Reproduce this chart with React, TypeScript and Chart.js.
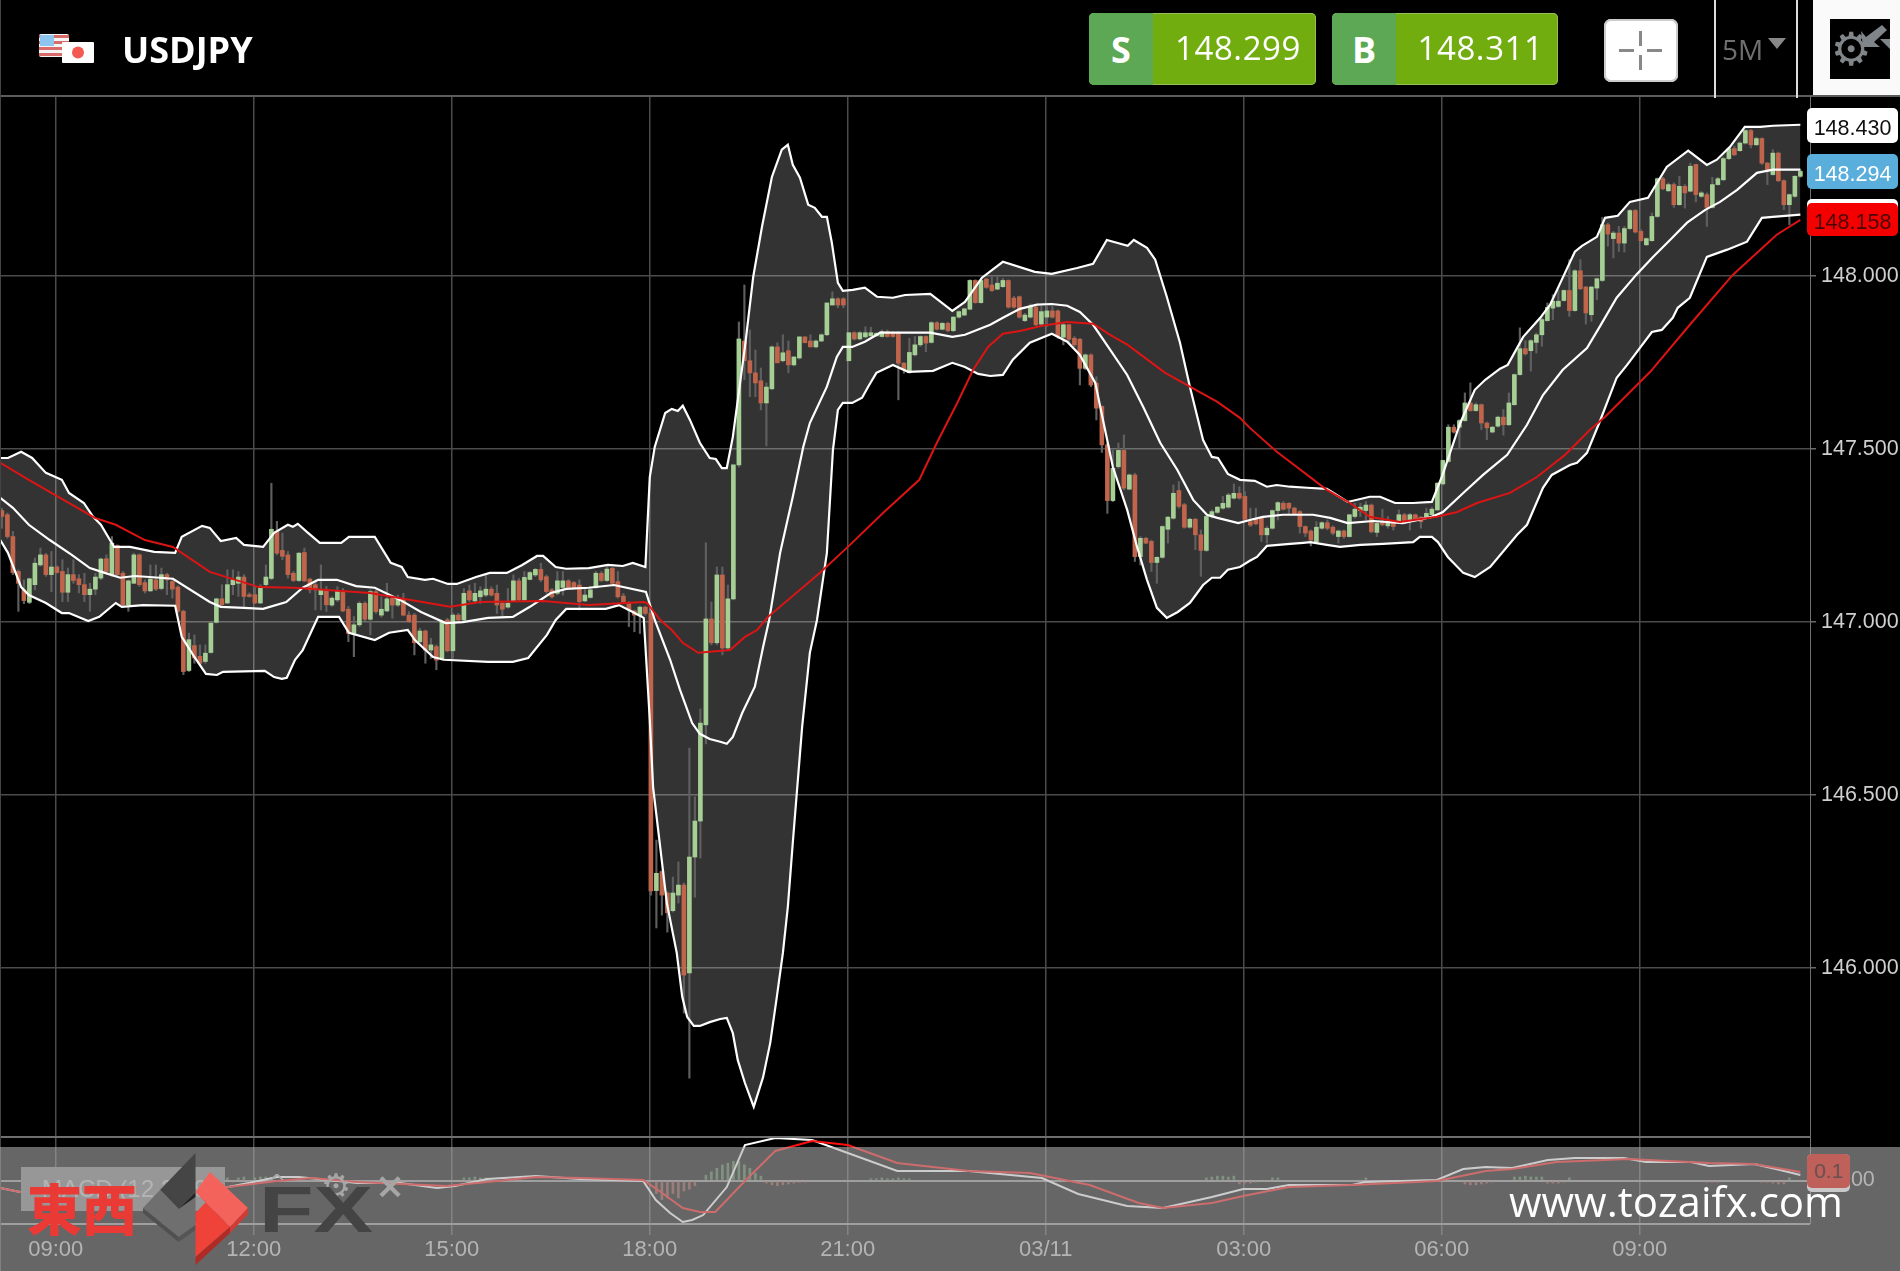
import React, { useEffect, useRef } from "react";
import { Chart, registerables } from "chart.js";

Chart.register(...registerables);

const symbol = "USDJPY";
const sellPrice = "148.299";
const buyPrice = "148.311";
const timeframe = "5M";
const tagHigh = "148.430";
const tagMid = "148.294";
const tagLow = "148.158";
const macdTag = "0.1";
const macdLegend = "MACD (12,26,9)";
const site = "www.tozaifx.com";

const xTickBars = [9.78, 45.78, 81.78, 117.78, 153.78, 189.78, 225.78, 261.78, 297.78];
const xTickLabels = ["09:00", "12:00", "15:00", "18:00", "21:00", "03/11", "03:00", "06:00", "09:00"];
const priceTicks = [146, 146.5, 147, 147.5, 148];
const macdTicks = [0];

const opens = [
147.321,147.309,147.246,147.145,147.092,147.056,147.107,147.164,147.193,147.136,147.158,147.145,147.085,147.136,147.124,147.107,147.078,147.094,147.126,147.182,
147.136,147.220,147.140,147.049,147.111,147.193,147.113,147.089,147.121,147.096,147.136,147.116,147.100,147.030,146.859,146.931,146.900,146.885,146.911,146.998,
147.066,147.054,147.107,147.111,147.129,147.078,147.078,147.054,147.107,147.125,147.261,147.206,147.193,147.140,147.119,147.200,147.123,147.107,147.078,147.090,
147.048,147.063,147.087,147.036,146.966,146.991,147.053,147.007,147.087,147.019,147.031,147.068,147.048,147.066,147.019,147.019,146.942,146.973,146.918,146.928,
146.894,147.005,146.916,147.019,147.005,147.089,147.060,147.072,147.077,147.094,147.082,147.053,147.042,147.061,147.118,147.063,147.122,147.135,147.151,147.130,
147.092,147.082,147.099,147.118,147.113,147.106,147.060,147.070,147.099,147.140,147.119,147.154,147.116,147.074,147.055,147.031,147.017,147.042,
147.025,146.223,146.278,146.216,146.165,146.210,146.239,145.985,146.320,146.424,146.702,147.008,146.939,147.135,146.924,147.066,147.453,147.811,147.754,147.719,
147.696,147.632,147.673,147.794,147.754,147.783,147.742,147.762,147.823,147.811,147.794,147.811,147.829,147.915,147.933,147.933,147.754,147.835,147.817,147.823,
147.826,147.826,147.824,147.838,147.835,147.835,147.747,147.720,147.771,147.800,147.824,147.807,147.864,147.845,147.862,147.841,147.880,147.886,147.903,147.986,
147.922,147.990,147.973,147.961,147.968,147.986,147.935,147.939,147.870,147.880,147.909,147.860,147.880,147.898,147.898,147.822,147.858,147.819,147.816,147.732,
147.771,147.689,147.622,147.511,147.350,147.448,147.495,147.383,147.424,147.188,147.241,147.232,147.171,147.186,147.267,147.299,147.379,147.338,147.273,147.296,
147.251,147.206,147.304,147.316,147.328,147.331,147.357,147.371,147.362,
147.289,147.296,147.299,147.251,147.270,147.321,147.342,147.342,147.328,147.318,147.275,147.262,147.231,147.270,147.286,147.273,147.246,147.262,147.246,147.304,
147.321,147.321,147.337,147.258,147.289,147.277,147.284,147.292,147.309,147.294,147.309,147.302,147.302,147.309,147.323,147.398,147.463,147.562,147.562,147.581,
147.632,147.610,147.627,147.574,147.548,147.565,147.591,147.569,147.627,147.714,147.789,147.783,147.807,147.829,147.870,147.906,147.911,147.928,147.957,147.899,
148.014,147.967,147.887,147.964,147.986,148.147,148.107,148.123,148.094,148.136,148.188,148.128,148.089,148.101,148.171,148.280,148.245,148.263,148.205,148.258,
148.244,148.321,148.229,148.234,148.197,148.263,148.277,148.338,148.367,148.361,148.383,148.419,148.378,148.396,148.325,148.292,148.354,148.274,148.205,148.229,148.287,
];
const closes = [
147.304,147.246,147.142,147.111,147.061,147.124,147.169,147.193,147.136,147.158,147.142,147.085,147.136,147.119,147.107,147.078,147.094,147.129,147.181,147.145,
147.227,147.136,147.049,147.118,147.193,147.107,147.089,147.123,147.094,147.136,147.121,147.094,147.030,146.856,146.948,146.895,146.880,146.909,146.996,147.066,
147.049,147.107,147.121,147.129,147.073,147.073,147.054,147.100,147.129,147.267,147.198,147.189,147.136,147.119,147.198,147.118,147.092,147.092,147.092,147.049,
147.068,147.087,147.031,146.966,146.991,147.053,147.007,147.087,147.029,147.036,147.066,147.048,147.068,147.019,147.000,146.939,146.973,146.918,146.933,146.889,
147.000,146.916,147.019,147.005,147.082,147.063,147.082,147.089,147.094,147.077,147.048,147.036,147.053,147.118,147.063,147.128,147.142,147.151,147.121,147.087,
147.072,147.118,147.118,147.099,147.096,147.058,147.077,147.092,147.140,147.119,147.152,147.111,147.072,147.058,147.034,147.019,147.042,147.024,
146.222,146.273,146.210,146.159,146.216,146.239,145.979,146.320,146.424,146.707,147.008,146.939,147.135,146.924,147.066,147.453,147.817,147.754,147.719,147.690,
147.632,147.678,147.794,147.748,147.777,147.742,147.765,147.823,147.806,147.794,147.811,147.829,147.921,147.933,147.915,147.915,147.835,147.817,147.835,147.835,
147.835,147.833,147.838,147.824,147.824,147.747,147.728,147.778,147.800,147.824,147.805,147.864,147.845,147.862,147.841,147.880,147.896,147.904,147.986,147.922,
147.986,147.966,147.957,147.978,147.986,147.909,147.909,147.880,147.886,147.909,147.858,147.896,147.898,147.880,147.824,147.858,147.816,147.800,147.732,147.771,
147.684,147.617,147.511,147.350,147.443,147.495,147.386,147.424,147.188,147.241,147.227,147.171,147.186,147.275,147.302,147.371,147.333,147.273,147.296,147.251,
147.206,147.304,147.318,147.331,147.342,147.366,147.371,147.357,147.296,
147.279,147.283,147.251,147.270,147.321,147.344,147.325,147.328,147.310,147.275,147.256,147.236,147.273,147.286,147.270,147.256,147.262,147.246,147.309,147.325,
147.331,147.337,147.260,147.284,147.280,147.289,147.275,147.309,147.292,147.309,147.294,147.289,147.313,147.325,147.400,147.466,147.562,147.548,147.581,147.632,
147.610,147.627,147.574,147.560,147.562,147.591,147.569,147.632,147.714,147.789,147.774,147.812,147.829,147.873,147.908,147.926,147.926,147.957,147.899,148.014,
147.962,147.892,147.967,147.991,148.147,148.120,148.123,148.094,148.136,148.188,148.126,148.101,148.107,148.171,148.280,148.251,148.263,148.205,148.258,148.239,
148.316,148.234,148.239,148.197,148.263,148.280,148.338,148.367,148.349,148.383,148.419,148.378,148.396,148.325,148.301,148.354,148.274,148.205,148.234,148.287,148.301,
];
const highs = [
147.328,147.314,147.261,147.150,147.121,147.126,147.184,147.213,147.198,147.203,147.162,147.179,147.155,147.179,147.136,147.140,147.111,147.140,147.184,147.193,
147.246,147.222,147.145,147.121,147.198,147.196,147.121,147.164,147.164,147.155,147.140,147.121,147.104,147.034,146.967,146.962,146.933,146.933,146.998,147.068,
147.107,147.150,147.150,147.145,147.136,147.083,147.102,147.107,147.164,147.400,147.290,147.256,147.203,147.145,147.200,147.213,147.126,147.121,147.164,147.102,
147.072,147.101,147.096,147.044,147.015,147.058,147.058,147.092,147.092,147.072,147.111,147.074,147.077,147.082,147.029,147.024,146.981,146.976,146.952,146.933,
147.005,147.010,147.024,147.024,147.096,147.106,147.111,147.101,147.135,147.101,147.106,147.058,147.096,147.135,147.125,147.145,147.145,147.154,147.169,147.135,
147.096,147.145,147.145,147.122,147.116,147.121,147.096,147.101,147.145,147.145,147.159,147.157,147.145,147.082,147.058,147.034,147.045,147.045,
147.030,146.369,146.280,146.219,146.262,146.306,146.245,146.635,146.494,146.748,147.228,147.057,147.158,147.158,147.106,147.453,147.866,147.973,147.843,147.785,
147.733,147.690,147.797,147.806,147.829,147.811,147.765,147.823,147.823,147.829,147.814,147.832,147.921,147.953,147.936,147.936,147.835,147.838,147.838,147.852,
147.851,147.836,147.843,147.843,147.838,147.838,147.749,147.819,147.824,147.826,147.826,147.867,147.867,147.865,147.865,147.882,147.898,147.906,147.988,147.988,
147.990,147.992,147.997,147.997,147.992,147.988,147.940,147.941,147.891,147.918,147.912,147.911,147.911,147.911,147.901,147.862,147.859,147.824,147.819,147.774,
147.774,147.708,147.624,147.516,147.496,147.516,147.540,147.427,147.429,147.246,147.244,147.236,147.188,147.277,147.304,147.395,147.405,147.342,147.299,147.299,
147.265,147.306,147.323,147.333,147.362,147.371,147.398,147.390,147.376,
147.328,147.328,147.304,147.275,147.323,147.347,147.347,147.344,147.331,147.321,147.277,147.265,147.289,147.289,147.294,147.277,147.265,147.265,147.310,147.342,
147.342,147.347,147.340,147.289,147.325,147.304,147.289,147.323,147.313,147.313,147.311,147.304,147.328,147.331,147.402,147.467,147.569,147.569,147.584,147.661,
147.690,147.632,147.629,147.577,147.565,147.594,147.613,147.661,147.716,147.849,147.812,147.815,147.834,147.878,147.921,147.945,147.959,147.959,148.046,148.017,
148.046,147.969,147.969,147.993,148.168,148.152,148.128,148.142,148.142,148.191,148.191,148.133,148.109,148.181,148.282,148.284,148.268,148.268,148.287,148.263,
148.325,148.322,148.243,148.239,148.284,148.284,148.342,148.369,148.374,148.386,148.422,148.422,148.400,148.398,148.327,148.364,148.357,148.277,148.236,148.289,148.306,
];
const lows = [
147.270,147.241,147.136,147.030,147.052,147.052,147.092,147.160,147.131,147.087,147.140,147.058,147.058,147.111,147.083,147.058,147.030,147.078,147.121,147.140,
147.131,147.133,147.046,147.030,147.110,147.102,147.083,147.087,147.090,147.092,147.078,147.068,147.025,146.847,146.856,146.880,146.876,146.880,146.909,146.996,
147.046,147.052,147.078,147.073,147.044,147.071,147.052,147.052,147.102,147.121,147.193,147.179,147.126,147.116,147.116,147.116,147.083,147.034,147.034,147.030,
147.044,147.058,147.029,146.942,146.899,146.986,147.003,146.962,147.024,147.013,147.029,147.010,147.044,147.017,146.997,146.904,146.938,146.880,146.894,146.861,
146.889,146.913,146.894,147.003,147.000,147.058,147.058,147.053,147.072,147.074,147.024,147.015,147.039,147.058,147.058,147.058,147.121,147.130,147.116,147.082,
147.068,147.077,147.077,147.096,147.094,147.034,147.058,147.068,147.096,147.116,147.116,147.106,147.068,147.053,146.986,146.971,146.966,147.019,
146.210,146.115,146.152,146.103,146.161,146.187,145.869,145.681,146.204,146.317,146.647,146.933,146.933,146.904,146.918,147.063,147.447,147.699,147.650,147.650,
147.612,147.508,147.670,147.748,147.751,147.719,147.739,147.759,147.806,147.794,147.791,147.809,147.826,147.915,147.907,147.907,147.754,147.814,147.814,147.820,
147.824,147.824,147.822,147.822,147.822,147.641,147.718,147.718,147.768,147.795,147.780,147.805,147.843,147.843,147.838,147.838,147.877,147.884,147.901,147.920,
147.920,147.963,147.954,147.959,147.966,147.906,147.906,147.877,147.867,147.877,147.855,147.858,147.853,147.877,147.819,147.800,147.805,147.795,147.684,147.728,
147.679,147.583,147.489,147.313,147.347,147.443,147.381,147.381,147.174,147.164,147.225,147.145,147.111,147.183,147.227,147.296,147.328,147.270,147.270,147.208,
147.131,147.203,147.299,147.313,147.325,147.328,147.354,147.354,147.294,
147.275,147.280,147.232,147.227,147.267,147.294,147.323,147.309,147.309,147.256,147.246,147.219,147.227,147.267,147.265,147.251,147.227,147.241,147.244,147.299,
147.304,147.294,147.256,147.246,147.277,147.270,147.265,147.289,147.283,147.265,147.289,147.270,147.299,147.306,147.321,147.395,147.460,147.545,147.502,147.579,
147.608,147.608,147.555,147.526,147.545,147.562,147.539,147.567,147.625,147.712,147.770,147.724,147.776,147.796,147.868,147.873,147.908,147.926,147.882,147.897,
147.959,147.860,147.868,147.930,147.983,148.085,148.051,148.070,148.068,148.133,148.123,148.099,148.087,148.099,148.168,148.248,148.243,148.197,148.203,148.195,
148.242,148.213,148.226,148.142,148.195,148.261,148.274,148.335,148.347,148.359,148.380,148.369,148.376,148.321,148.263,148.290,148.272,148.191,148.147,148.226,148.284,
];

const upperAt = [-0.3,1.1,3.5,5.5,8,10.9,12.2,14.9,16.6,18,20.4,23.3,27.7,31.5,32.7,36.4,37.8,39.8,42.6,44,47.5,49.5,52,52.9,53.8,55.5,57.8,61.7,63.1,67.8,70.7,72.7,73.8,76.9,78.4,81.1,82.7,86.2,88.7,91.8,94.6,97.3,98.4,100.7,102.6,106.7,110.2,112.9,114.7,117,117.8,118.7,120.6,121.8,122.9,123.8,125.1,126.9,128.7,129.8,130.9,131.8,132.9,135.1,136.6,138.2,140,141.8,142.9,143.8,145.1,146.6,147.8,149.1,150,150.9,152,152.9,154.7,156.9,159.1,162,164.2,168.8,172.8,175.1,178.2,182,187.8,190.9,195.5,198.4,200.9,204.7,205.8,208.2,209.7,211.8,214.2,216,218.4,220,221.1,222.9,225.1,227.8,230,231.8,234.2,237.3,240.9,242.7,244.7,248.7,250.6,253.3,256.6,260,261.8,263.3,265.1,267.8,269.7,272.4,273.8,276.6,279.7,281.5,284.2,286,287.3,290,291.5,293.8,296,299.3,302.7,306.6,310,311.8,314.2,316.9,319.7,322,327];
const upperBand = [147.473,147.473,147.491,147.473,147.430,147.410,147.372,147.343,147.303,147.280,147.216,147.216,147.202,147.199,147.245,147.277,147.271,147.233,147.242,147.222,147.216,147.257,147.280,147.274,147.283,147.259,147.228,147.228,147.245,147.245,147.170,147.158,147.129,147.121,147.124,147.109,147.109,147.129,147.141,147.141,147.164,147.190,147.190,147.158,147.153,147.155,147.164,147.161,147.170,147.158,147.418,147.505,147.603,147.615,147.609,147.624,147.583,147.517,147.473,147.470,147.444,147.444,147.534,147.794,147.996,148.141,148.285,148.364,148.378,148.320,148.283,148.205,148.196,148.170,148.170,148.095,147.979,147.956,147.959,147.965,147.939,147.936,147.944,147.947,147.898,147.924,147.994,148.040,148.011,148.005,148.022,148.034,148.103,148.086,148.103,148.080,148.046,147.939,147.806,147.679,147.525,147.476,147.473,147.427,147.410,147.407,147.390,147.395,147.390,147.387,147.384,147.366,147.346,147.361,147.361,147.343,147.343,147.346,147.418,147.488,147.572,147.670,147.699,147.731,147.742,147.823,147.878,147.916,148.008,148.069,148.086,148.112,148.167,148.173,148.213,148.225,148.314,148.361,148.320,148.335,148.372,148.430,148.430,148.433,148.436];

const lowerAt = [-0.3,1.1,3.5,4.9,8,10.9,12.2,15.7,17.7,20.7,21.8,25.7,31.5,32.7,35,37.1,39.1,40.2,47.8,49.5,50.9,51.8,53.3,54.7,57.5,61.3,63.1,67.8,70.4,73.8,75.1,78.4,80.4,88.4,92.9,95.7,99.1,100.7,102.6,109.8,112.2,114.7,116.7,117.8,118.4,120.9,122.7,123.7,124.6,125.8,126.9,128.7,130.6,131.8,132.9,133.8,135.1,136.7,138.4,139.7,140.9,142,142.9,143.8,145.5,146.9,148.2,150,151.1,152,152.9,154.6,156.4,157.5,159,162,164.8,169.3,172.8,175.1,177.5,179.7,182,183.8,186.9,190.9,193.7,196,198.8,200.2,202,204.6,206.4,208.2,210,211.8,213.8,216,218.4,220,221.5,222.9,225.1,226.9,228.2,230,234.2,236.6,237.9,240.9,243.3,247,251.1,256.6,257.8,260,261.1,262.9,265.7,267.8,270.6,275.5,277.3,280.2,281.8,285.1,286.4,288.2,290.5,293.6,295.5,300,301.8,303.8,304.7,306.9,310,313.7,317.3,320,322,327];
const lowerBand = [147.236,147.199,147.100,147.077,147.054,147.025,147.025,147.002,147.014,147.054,147.043,147.048,147.046,146.956,146.898,146.849,146.846,146.855,146.858,146.840,146.835,146.838,146.890,146.918,147.014,147.014,146.968,146.947,146.968,146.976,146.947,146.898,146.890,146.884,146.884,146.895,146.962,147.005,147.037,147.037,147.048,147.028,147.011,146.716,146.522,146.187,146.043,145.916,145.858,145.832,145.832,145.843,145.852,145.855,145.811,145.733,145.667,145.598,145.684,145.783,145.916,146.043,146.176,146.361,146.696,146.910,147.005,147.199,147.496,147.612,147.632,147.632,147.647,147.679,147.719,147.742,147.722,147.725,147.748,147.736,147.716,147.710,147.713,147.757,147.806,147.832,147.809,147.771,147.690,147.583,147.447,147.323,147.216,147.121,147.040,147.011,147.028,147.054,147.106,147.127,147.127,147.150,147.158,147.176,147.187,147.219,147.225,147.228,147.230,147.222,147.216,147.222,147.225,147.230,147.245,147.245,147.230,147.187,147.141,147.129,147.158,147.251,147.280,147.387,147.424,147.453,147.459,147.488,147.577,147.705,147.742,147.837,147.843,147.878,147.907,147.936,148.054,148.075,148.098,148.167,148.170,148.176];

const midAt = [-0.3,2,4.9,8.7,12.7,16,18.7,21.5,24.2,28.7,31.1,37.8,39.8,44,47.5,51.7,54.7,57.5,60.9,64.4,67.8,72.4,76.2,80.7,83.8,88.4,92.9,96,99.8,102.6,106.7,111.3,117.1,118.7,121.5,123.3,125.5,126.9,128.7,130.6,131.8,132.9,134.6,136.9,138.4,139.5,141.5,143.8,145.7,146.9,150,151.8,152.9,154.6,156.9,159.7,163.3,168.8,172.8,175.1,179.7,182,185.1,188.2,190.9,193.7,196,198.4,200.9,204.6,207.5,210.6,213.7,216.6,219.1,221,224.8,226.9,229.3,232.9,238.4,241.5,244.7,249.3,254.7,260,262,265.7,269.3,273.7,277.3,280.2,283.8,288.2,290.5,293.6,297.3,300.2,303.3,306.4,309.7,312.4,315.5,319.1,322,327];
const midBand = [147.358,147.329,147.280,147.236,147.193,147.155,147.141,147.127,147.132,147.127,147.124,147.057,147.043,147.040,147.037,147.057,147.098,147.121,147.121,147.103,147.098,147.063,147.028,146.996,146.999,147.011,147.014,147.043,147.083,147.095,147.098,147.106,147.086,147.005,146.890,146.803,146.707,146.676,146.661,146.653,146.647,146.667,146.736,146.812,146.927,147.005,147.199,147.361,147.505,147.574,147.679,147.765,147.794,147.794,147.809,147.835,147.835,147.835,147.823,147.829,147.858,147.878,147.904,147.916,147.918,147.913,147.895,147.858,147.800,147.713,147.621,147.517,147.439,147.352,147.309,147.300,147.285,147.294,147.303,147.309,147.309,147.300,147.285,147.291,147.285,147.303,147.317,147.372,147.424,147.482,147.569,147.655,147.728,147.791,147.852,147.936,148.005,148.054,148.103,148.153,148.190,148.213,148.248,148.297,148.306,148.306];

const maAt = [-0.3,4.9,9.7,16.9,20.7,26,31.1,37.8,46.7,53.3,66.9,81.5,87,98.4,106.7,116.7,117.3,119.7,121.8,123.8,126.6,132.4,135.1,137.3,139.3,148.7,154.2,160.2,166.8,170,173.7,176.6,179.3,182,185.1,189.1,193.7,198.4,201.5,204.7,211.5,216,221,225.1,226.9,231.8,240.9,245.1,248.7,254.2,260.9,264.6,268.2,274.2,279.1,284.2,288.7,291.5,299.7,306.9,314.7,322.7,327];
const maLine = [147.459,147.410,147.366,147.300,147.280,147.236,147.216,147.144,147.100,147.098,147.083,147.043,147.057,147.060,147.048,147.057,147.054,147.005,146.976,146.939,146.910,146.918,146.956,146.976,147.014,147.141,147.222,147.314,147.410,147.517,147.632,147.728,147.794,147.832,147.840,147.855,147.866,147.861,147.829,147.800,147.719,147.679,147.635,147.589,147.560,147.491,147.381,147.343,147.303,147.288,147.303,147.317,147.343,147.372,147.418,147.482,147.554,147.592,147.722,147.858,148.002,148.118,148.161];

const macdAt = [-0.3,3.3,10.6,21.5,32.4,41.1,45.8,50,54,64.6,72.4,79.1,82.4,88.2,97.1,105.1,116.6,118.9,121.5,123.8,125.5,127.5,131.8,135.1,140.6,147.3,153.8,162.8,175.8,189.1,195.7,204.6,211.1,220,225.7,230,234,245.5,247.8,260.9,265.7,269.8,274.6,281.1,286,294.9,298.9,307.1,310.4,318.6,323.3,327];
const macdLine = [-0.086,-0.132,-0.132,-0.109,-0.086,-0.075,-0.017,0.04,0.04,-0.029,-0.029,-0.086,-0.063,0.017,0.052,0.017,-0.006,-0.224,-0.374,-0.477,-0.454,-0.397,-0.075,0.408,0.489,0.466,0.316,0.109,0.109,0.029,-0.155,-0.293,-0.316,-0.19,-0.098,-0.098,-0.052,-0.052,-0.017,0.006,0.132,0.155,0.144,0.236,0.259,0.259,0.213,0.213,0.167,0.19,0.121,0.063];
const signalAt = [-0.3,3.3,10.6,21.5,32.4,41.1,50,56.4,64.6,80.8,88.2,97.1,105.1,116.6,119.8,123.8,126.9,129.7,135.1,140.6,147.3,153.8,162.8,175.8,186.9,197.8,206.7,211.1,220,225.7,234,245.5,260.9,269.8,274.6,282.7,295.8,310.4,318.6,327];
const signalLine = [-0.086,-0.132,-0.155,-0.132,-0.098,-0.075,-0.006,0.029,-0.017,-0.063,-0.017,0.04,0.029,0.006,-0.132,-0.316,-0.362,-0.362,-0.006,0.339,0.454,0.408,0.201,0.109,0.086,-0.052,-0.259,-0.316,-0.259,-0.178,-0.075,-0.052,-0.006,0.109,0.132,0.213,0.247,0.201,0.19,0.098];

const histBars = [41,42,43,44,45,46,47,48,84,85,86,87,88,119,120,121,122,123,124,125,126,128,129,130,131,132,133,134,135,136,137,138,139,140,141,142,143,144,145,146,158,159,160,161,162,163,164,165,219,220,221,222,223,224,225,226,227,228,231,232,248,266,267,268,269,270,271,275,276,277,278,279,280,281,282,283,284,285,310,311,312,320,321,322,323,324,325,326];
const histValues = [0.03,-0.02,0.03,0.04,-0.03,0.03,0.04,0.04,0.03,0.03,0.04,0.03,0.03,-0.15,-0.22,-0.2,-0.15,-0.2,-0.12,-0.1,-0.06,0.06,0.1,0.14,0.18,0.2,0.22,0.22,0.18,0.14,0.08,0.05,-0.03,-0.05,-0.06,-0.05,-0.04,-0.03,-0.02,-0.02,0.02,0.02,0.03,0.02,0.02,0.03,0.02,0.02,0.03,0.04,0.05,0.05,0.04,0.05,-0.04,-0.03,-0.03,-0.02,0.03,0.03,0.03,-0.04,-0.05,-0.05,-0.04,-0.03,-0.02,0.04,0.04,0.05,0.04,0.04,0.04,-0.03,-0.03,-0.03,-0.02,0.03,-0.02,-0.02,-0.02,-0.02,-0.02,-0.03,-0.04,-0.04,0.03];

const zip = (at: number[], v: number[]) => at.map((x, i) => ({ x, y: v[i] }));
const GREEN = "#a6cf95";
const RED = "#c0654b";
const line = (label: string, data: any[], color: string, width: number, yAxisID: string, order: number) => ({
  type: "line", label, data, borderColor: color, borderWidth: width, pointRadius: 0, tension: 0, fill: false, yAxisID, order,
});

const abs = (l: number, t: number, w: number, h: number, extra: React.CSSProperties = {}): React.CSSProperties => ({
  position: "absolute", left: l, top: t, width: w, height: h, ...extra,
});
const tagStyle = (t: number, h: number, bg: string, color: string): React.CSSProperties =>
  abs(1807, t, 91, h, {
    background: bg, color, borderRadius: 5, textAlign: "center",
    font: "21.5px 'Liberation Sans'", lineHeight: h + 5 + "px", overflow: "hidden",
  });

function TradeButton({ left, split, width, letter, price }: { left: number; split: number; width: number; letter: string; price: string }) {
  return (
    <div style={abs(left, 13, width, 72, { background: "#72ad10", borderRadius: 5, overflow: "hidden", boxShadow: "inset 0 0 0 1px #93bf5a" })}>
      <div style={abs(0, 0, split, 72, { background: "#5ca854", color: "#fff", textAlign: "center", font: "700 36px 'Open Sans'", lineHeight: "74px" })}>{letter}</div>
      <div style={abs(split, 0, width - split, 72, { color: "#fff", textAlign: "center", font: "33px 'Open Sans'", letterSpacing: 0.6, lineHeight: "70px", paddingLeft: 7, boxSizing: "border-box" })}>{price}</div>
    </div>
  );
}

export default function App() {
  const ref = useRef<HTMLCanvasElement>(null);
  useEffect(() => {
    const bars = opens.map((_, i) => i);
    const chart = new Chart(ref.current as HTMLCanvasElement, {
      type: "line",
      data: {
        datasets: [
          { type: "line", label: "Band area", data: zip(upperAt, upperBand), borderWidth: 0, pointRadius: 0, tension: 0, yAxisID: "y", order: 30,
            fill: { target: 1, above: "rgba(255,255,255,0.2)", below: "rgba(255,255,255,0.2)" } },
          line("Lower band", zip(lowerAt, lowerBand), "#ffffff", 2.2, "y", 5),
          { type: "bar", label: "Wicks", data: bars.map((i) => ({ x: i, y: [lows[i], highs[i]] })), backgroundColor: "#5f5f5f", barThickness: 1.5, grouped: false, yAxisID: "y", order: 20 },
          { type: "bar", label: "Candles", data: bars.map((i) => ({ x: i, y: [opens[i], closes[i]] })),
            backgroundColor: bars.map((i) => (closes[i] >= opens[i] ? GREEN : RED)), barThickness: 4, grouped: false, yAxisID: "y", order: 10 },
          line("Upper band", zip(upperAt, upperBand), "#ffffff", 2.2, "y", 5),
          line("Middle band", zip(midAt, midBand), "#ffffff", 2.2, "y", 5),
          line("Moving average", zip(maAt, maLine), "#dc1414", 2, "y", 3),
          { type: "bar", label: "Histogram", data: histBars.map((x, i) => ({ x, y: histValues[i] })),
            backgroundColor: histValues.map((v) => (v >= 0 ? "rgba(90,150,90,0.75)" : "rgba(170,80,70,0.75)")), barThickness: 2, grouped: false, yAxisID: "y2", order: 8 },
          line("MACD", zip(macdAt, macdLine), "#ffffff", 2, "y2", 4),
          line("Signal", zip(signalAt, signalLine), "#ff1010", 2, "y2", 3),
        ] as any,
      },
      options: {
        animation: false,
        responsive: false,
        devicePixelRatio: 1,
        layout: { padding: { top: 96, left: 0, right: 0, bottom: 0 } },
        plugins: { legend: { display: false }, tooltip: { enabled: false } },
        scales: {
          x: {
            type: "linear", min: -0.345, max: 328.75, offset: false,
            grid: { offset: false, color: "#4b4b4b", lineWidth: 1.5, tickLength: 11, tickColor: "#4b4b4b" },
            border: { display: false },
            afterBuildTicks: (s: any) => { s.ticks = xTickBars.map((value) => ({ value })); },
            afterFit: (s: any) => { s.height = 47; },
            ticks: {
              autoSkip: false, maxRotation: 0, padding: 2, color: "#c4c4c4",
              font: { family: "'Liberation Sans'", size: 22 },
              callback: (_v: any, i: number) => xTickLabels[i],
            },
          },
          y: {
            type: "linear", position: "right", min: 145.511, max: 148.519, stack: "panes", stackWeight: 1041, weight: 0,
            grid: { color: "#4b4b4b", lineWidth: 1.5, tickLength: 6, tickColor: "#6a6a6a" },
            border: { display: false },
            afterBuildTicks: (s: any) => { s.ticks = priceTicks.map((value) => ({ value })); },
            afterFit: (s: any) => { s.width = 90; },
            ticks: { padding: 5, color: "#cfcfcf", font: { family: "'Liberation Sans'", size: 21.5 }, callback: (v: any) => Number(v).toFixed(3) },
          },
          y2: {
            type: "linear", position: "right", min: -0.5, max: 0.5, stack: "panes", stackWeight: 87, weight: 1,
            grid: { color: "#909090", lineWidth: 2, tickLength: 6, tickColor: "#909090" },
            border: { display: false },
            afterBuildTicks: (s: any) => { s.ticks = macdTicks.map((value) => ({ value })); },
            afterFit: (s: any) => { s.width = 90; },
            ticks: { padding: 5, color: "#c4c4c4", font: { family: "'Liberation Sans'", size: 21.5 }, callback: (v: any) => Number(v).toFixed(3) },
          },
        },
      } as any,
    });
    return () => chart.destroy();
  }, []);

  return (
    <div style={{ position: "absolute", left: 0, top: 0, width: 1900, height: 1271, background: "#000", overflow: "hidden" }}>
      <canvas ref={ref} width={1900} height={1271} style={{ position: "absolute", left: 0, top: 0, display: "block" }} />

      {/* panel frame */}
      <div style={abs(0, 95, 1900, 2, { background: "#5c5c5c" })} />
      <div style={abs(0, 1136, 1810, 2, { background: "#6f6f6f" })} />
      <div style={abs(0, 1223, 1810, 2, { background: "#909090" })} />
      <div style={abs(1810, 96, 1, 1128, { background: "#6f6f6f" })} />
      <div style={abs(0, 0, 1, 1271, { background: "#444" })} />

      {/* watermark band over the MACD pane */}
      <div style={abs(0, 1147, 1900, 124, { background: "rgba(170,170,170,0.6)" })} />

      {/* MACD legend and value tag */}
      <div style={abs(21, 1167, 204, 44, { background: "#979797", color: "#b4b4b4", font: "24px 'Liberation Sans'", lineHeight: "44px", paddingLeft: 21, boxSizing: "border-box", overflow: "hidden", whiteSpace: "nowrap" })}>{macdLegend}</div>
      <div style={abs(1807, 1154, 43, 38, { background: "#c9c9c9", borderRadius: 5 })} />
      <div style={abs(1807, 1154, 43, 34, { background: "#c0605a", borderRadius: 5, color: "#6b5050", textAlign: "center", font: "21px 'Liberation Sans'", lineHeight: "34px" })}>{macdTag}</div>
      <div style={abs(265, 1170, 24, 24, { color: "#a8a8a8", font: "22px 'DejaVu Sans'", textAlign: "center" })}>^</div>
      <div style={abs(318, 1164, 36, 44, { color: "#a6a6a6", font: "34px 'DejaVu Sans'", textAlign: "center", lineHeight: "44px" })}>⚙</div>
      <div style={abs(374, 1166, 32, 40, { color: "#a6a6a6", font: "700 36px 'DejaVu Sans'", textAlign: "center", lineHeight: "40px" })}>×</div>

      {/* logo */}
      <svg width={1900} height={1271} style={{ position: "absolute", left: 0, top: 0 }}>
        <text x={27} y={1230} fontFamily="'Noto Sans CJK JP'" fontWeight={900} fontSize={55} fill="#ea3a36" textLength={110} lengthAdjust="spacingAndGlyphs">東西</text>
        <polygon points="195.5,1153 195.5,1192 178.6,1209 160,1190" fill="#454545" />
        <polygon points="195.5,1192 195.5,1197 178.6,1214 178.6,1209" fill="#222" />
        <polygon points="143,1208 160,1190 178.6,1209 195.5,1197 195.5,1225 178.6,1237" fill="#6f6f6f" />
        <polygon points="143,1208 178.6,1237 178.6,1242 143,1213" fill="#505050" />
        <polygon points="178.6,1237 195.5,1225 195.5,1230 178.6,1242" fill="#555" />
        <polygon points="210,1172 248,1208 230,1227 195.5,1192" fill="#f4625c" />
        <polygon points="195.5,1192 230,1227 195.5,1257 195.5,1213 206,1202" fill="#ef4238" />
        <polygon points="230,1227 248,1208 248,1214 230,1233" fill="#d23a34" />
        <polygon points="195.5,1257 230,1227 230,1233 195.5,1265" fill="#b02a26" />
        <text x={259} y={1232} fontFamily="'Liberation Sans'" fontWeight={700} fontSize={65} fill="#444" textLength={114} lengthAdjust="spacingAndGlyphs">FX</text>
      </svg>
      <div style={abs(1509, 1172, 340, 58, { color: "#fff", font: "42px 'Open Sans'", lineHeight: "58px", whiteSpace: "nowrap" })}>{site}</div>

      {/* price tags */}
      <div style={tagStyle(108, 35, "#ffffff", "#111")}>{tagHigh}</div>
      <div style={tagStyle(154, 35, "#5aaedb", "#fff")}>{tagMid}</div>
      <div style={abs(1807, 199, 91, 20, { background: "#fff", borderRadius: 5 })} />
      <div style={tagStyle(203, 33, "#f40000", "#4a0505")}>{tagLow}</div>

      {/* header */}
      <svg width={70} height={40} style={{ position: "absolute", left: 36, top: 30 }}>
        <rect x={3} y={4} width={30} height={23} rx={2} fill="#f4f4f4" />
        {[5, 11, 17, 23].map((y) => <rect key={y} x={3} y={y} width={30} height={3} fill="#d96a6a" />)}
        <rect x={4} y={5} width={14} height={11} fill="#8cc6ee" />
        <rect x={26} y={12} width={32} height={21} rx={1} fill="#fff" />
        <circle cx={42} cy={22.5} r={6} fill="#f25a52" />
      </svg>
      <div style={abs(122, 25, 180, 50, { color: "#fff", font: "700 36px 'Open Sans'", lineHeight: "50px" })}>{symbol}</div>
      <TradeButton left={1089} split={64} width={227} letter="S" price={sellPrice} />
      <TradeButton left={1332} split={64} width={226} letter="B" price={buyPrice} />
      <div style={abs(1604, 19, 74, 63, { background: "#fff", borderRadius: 7, boxShadow: "inset 0 0 0 2px #ccc" })}>
        <div style={abs(35, 12, 3, 15, { background: "#888" })} />
        <div style={abs(35, 36, 3, 15, { background: "#888" })} />
        <div style={abs(15, 30, 15, 3, { background: "#888" })} />
        <div style={abs(43, 30, 15, 3, { background: "#888" })} />
      </div>
      <div style={abs(1714, 0, 2, 98, { background: "#ddd" })} />
      <div style={abs(1796, 0, 2, 98, { background: "#ddd" })} />
      <div style={abs(1722, 26, 44, 46, { color: "#6f6f6f", font: "28px 'Open Sans'", lineHeight: "46px" })}>{timeframe}</div>
      <svg width={20} height={12} style={{ position: "absolute", left: 1768, top: 38 }}><polygon points="0,0 18,0 9,11" fill="#888" /></svg>
      <div style={abs(1813, 0, 87, 95, { background: "#fafafa" })} />
      <div style={abs(1830, 19, 60, 60, { background: "#000", overflow: "hidden" })}>
        <div style={abs(-4, 2, 50, 56, { color: "#80858a", font: "46px 'DejaVu Sans'", lineHeight: "56px", textAlign: "center" })}>⚙</div>
        <svg width={60} height={60} style={{ position: "absolute", left: 0, top: 0 }}>
          <polygon points="52,6 36,18 31,12 33,28 50,28 44,23 57,11" fill="#80858a" />
          <polygon points="50,20 60,20 60,30" fill="#80858a" />
        </svg>
      </div>
    </div>
  );
}
